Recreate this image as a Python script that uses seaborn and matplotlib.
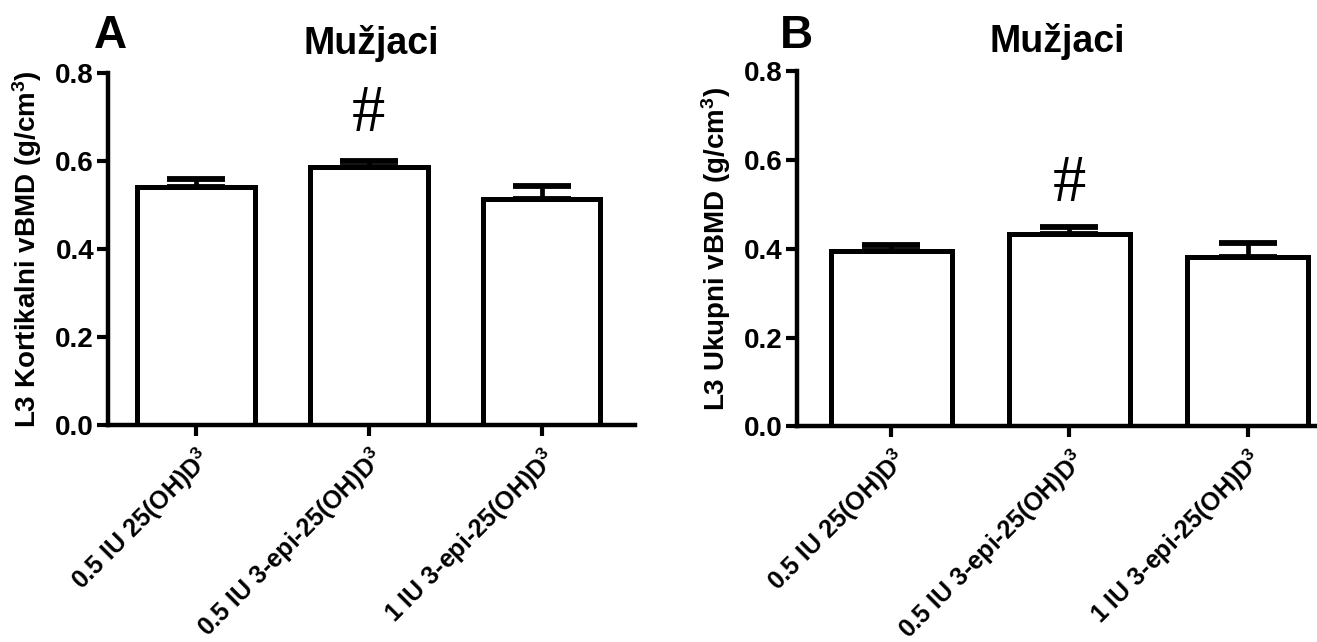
import matplotlib
matplotlib.use("Agg")
import matplotlib.pyplot as plt
import seaborn as sns
import numpy as np
import pandas as pd

categories = ["0.5 IU 25(OH)D$\\mathregular{^3}$",
              "0.5 IU 3-epi-25(OH)D$\\mathregular{^3}$",
              "1 IU 3-epi-25(OH)D$\\mathregular{^3}$"]
kort_mean = [0.542, 0.587, 0.515]
kort_sem = [0.018, 0.014, 0.028]
ukup_mean = [0.396, 0.433, 0.382]
ukup_sem = [0.013, 0.016, 0.030]
title = "Mužjaci"
ylabel_a = "L3 Kortikalni vBMD (g/cm$\\mathregular{^3}$)"
ylabel_b = "L3 Ukupni vBMD (g/cm$\\mathregular{^3}$)"
yticks = [0.0, 0.2, 0.4, 0.6, 0.8]

sns.set_style("ticks")
plt.rcParams["font.family"] = ["Liberation Sans", "DejaVu Sans"]
plt.rcParams["mathtext.fontset"] = "custom"
plt.rcParams["mathtext.rm"] = "Liberation Sans"
for k in ["text.color", "axes.labelcolor", "xtick.color", "ytick.color", "axes.edgecolor"]:
    plt.rcParams[k] = "black"

fig = plt.figure(figsize=(13.17, 6.42), dpi=100)
axA = fig.add_axes([0.082, 0.338, 0.400, 0.548])
axB = fig.add_axes([0.605, 0.336, 0.395, 0.553])


def panel(ax, means, sems, ylabel, letter, hash_y, xlim, letter_xy):
    df = pd.DataFrame({"g": categories, "v": means})
    sns.barplot(data=df, x="g", y="v", color="white", edgecolor="black",
                linewidth=3.6, width=0.68, errorbar=None, ax=ax, zorder=2)
    for p in ax.patches:
        p.set_facecolor("white")
    x = np.arange(len(means))
    ax.errorbar(x, means, yerr=[np.zeros(len(sems)), sems], fmt="none",
                ecolor="black", elinewidth=3.4, capsize=21, capthick=4.2, zorder=1)
    ax.set_ylim(0, 0.8)
    ax.set_xlim(*xlim)
    ax.set_yticks(yticks)
    ax.set_yticklabels([f"{t:.1f}" for t in yticks], fontweight="bold", fontsize=20)
    ax.set_xticks(x)
    ax.set_xticklabels(categories, rotation=45, ha="right", rotation_mode="anchor",
                       fontweight="bold", fontsize=18)
    ax.tick_params(axis="both", width=3, length=8, color="black", pad=2)
    ax.tick_params(axis="x", pad=5)
    for s in ["left", "bottom"]:
        ax.spines[s].set_linewidth(3.2)
        ax.spines[s].set_color("black")
    ax.spines["top"].set_visible(False)
    ax.spines["right"].set_visible(False)
    ax.set_xlabel("")
    ax.set_ylabel(ylabel, fontsize=20, fontweight="bold", labelpad=8)
    ax.set_title(title, fontsize=27, fontweight="bold", pad=14)
    ax.text(1, hash_y, "#", ha="center", va="center", fontsize=48,
            fontfamily="Liberation Serif")
    ax.text(letter_xy[0], letter_xy[1], letter, transform=ax.transAxes, fontsize=33,
            fontweight="bold", ha="left", va="baseline")


panel(axA, kort_mean, kort_sem, ylabel_a, "A", 0.705, (-0.51, 2.54), (-0.027, 1.071))
panel(axB, ukup_mean, ukup_sem, ylabel_b, "B", 0.545, (-0.53, 2.39), (-0.033, 1.065))

fig.savefig("out.png", dpi=100, facecolor="white")
